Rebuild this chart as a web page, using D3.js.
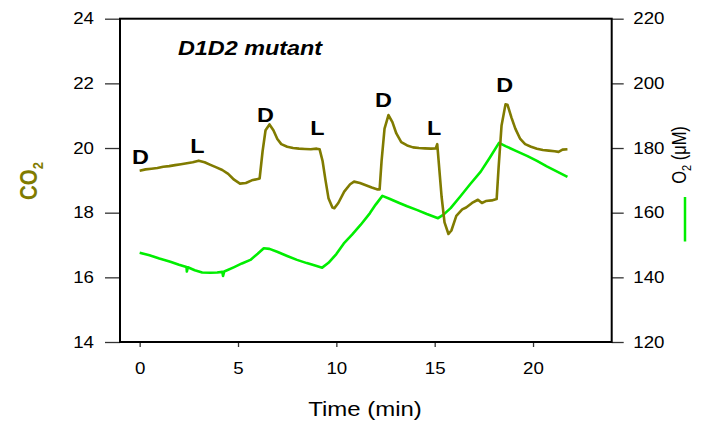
<!DOCTYPE html>
<html>
<head>
<meta charset="utf-8">
<script src="https://cdn.jsdelivr.net/npm/d3@7"></script>
<style>
  html, body { margin: 0; padding: 0; background: #fff; }
  svg { display: block; }
  text { font-family: "Liberation Sans", Arial, Helvetica, sans-serif; }
</style>
</head>
<body>
<svg id="chart" width="702" height="426"></svg>
<script>
// ---------- data ----------
const co2Time = [0.0,0.3,0.6,0.9,1.2,1.5,1.8,2.1,2.4,2.7,3.0,3.3,3.6,3.9,4.2,4.5,4.8,5.1,5.4,5.7,6.0,6.1,6.25,6.4,6.6,6.8,7.0,7.2,7.5,7.8,8.1,8.4,8.7,9.0,9.15,9.3,9.45,9.6,9.8,9.9,10.1,10.4,10.7,10.9,11.2,11.5,11.8,12.1,12.2,12.3,12.45,12.65,12.85,13.05,13.3,13.6,13.9,14.2,14.5,14.8,15.05,15.13,15.2,15.35,15.5,15.7,15.85,16.1,16.4,16.6,16.9,17.2,17.4,17.6,17.9,18.15,18.25,18.4,18.6,18.7,18.9,19.1,19.35,19.6,19.9,20.2,20.5,20.8,21.1,21.3,21.5,21.75];
const co2Value = [19.30,19.34,19.36,19.38,19.42,19.44,19.47,19.50,19.53,19.56,19.61,19.56,19.48,19.40,19.32,19.20,19.02,18.90,18.92,19.00,19.04,19.06,19.90,20.55,20.73,20.55,20.28,20.12,20.04,20.00,19.98,19.97,19.96,19.98,19.96,19.60,19.00,18.45,18.16,18.14,18.30,18.65,18.88,18.96,18.92,18.85,18.78,18.72,18.72,19.60,20.60,21.02,20.80,20.45,20.18,20.08,20.02,20.00,19.99,19.98,19.99,20.12,19.60,18.50,17.70,17.34,17.45,17.90,18.10,18.16,18.30,18.40,18.30,18.36,18.38,18.42,19.40,20.70,21.35,21.34,20.95,20.60,20.28,20.12,20.04,19.98,19.94,19.92,19.90,19.88,19.95,19.96];

const o2Time = [0.0,0.5,1.0,1.56,2.0,2.38,2.4,2.45,2.8,3.18,3.6,3.94,4.2,4.24,4.3,4.78,5.2,5.63,6.0,6.31,6.6,6.99,7.5,8.0,8.5,9.0,9.28,9.6,10.0,10.38,10.8,11.23,11.7,12.0,12.34,12.7,13.2,13.6,14.12,14.6,15.17,15.45,15.81,16.3,16.8,17.34,17.8,18.27,18.6,19.1,19.72,20.2,20.7,21.2,21.75];
const o2Value = [147.6,146.8,145.8,144.8,143.9,143.2,141.8,143.1,142.2,141.5,141.4,141.5,141.7,140.4,141.8,143.1,144.3,145.4,147.3,149.0,148.8,147.9,146.6,145.4,144.4,143.5,143.0,144.5,147.2,150.5,153.2,156.2,159.8,162.5,165.2,164.3,163.0,162.0,160.8,159.6,158.3,159.4,161.4,165.0,168.8,172.7,177.0,181.6,180.6,179.2,177.5,176.0,174.3,172.8,171.1];

const xTicks = [0, 5, 10, 15, 20];
const co2Ticks = [14, 16, 18, 20, 22, 24];
const o2Ticks = [120, 140, 160, 180, 200, 220];

const markText = ["D", "L", "D", "L", "D", "L", "D"];
const markTime = [0.04, 2.94, 6.4, 9.04, 12.4, 14.97, 18.56];
const markCo2 = [19.51, 19.85, 20.80, 20.40, 21.27, 20.40, 21.72];

const titleText = "D1D2 mutant";
const xTitle = "Time (min)";

// ---------- layout ----------
const SX = 1.17; // horizontal text stretch seen in reference
const OLIVE = "#807b00";
const GREEN = "#00ee00";
const L = 120, R = 611.7, T = 18.7, B = 342;

const svg = d3.select("#chart");
const x = d3.scaleLinear().domain([-1, 24]).range([L, R]);
const yL = d3.scaleLinear().domain([14, 24]).range([B, T]);
const yR = d3.scaleLinear().domain([120, 220]).range([B, T]);

// axes
const gL = svg.append("g").attr("transform", `translate(${L},0)`)
  .call(d3.axisLeft(yL).tickValues(co2Ticks).tickSize(15).tickSizeOuter(0).tickFormat(d3.format("d")));
gL.selectAll("text").attr("x", -26 / SX).attr("transform", `scale(${SX},1)`);

const gR = svg.append("g").attr("transform", `translate(${R},0)`)
  .call(d3.axisRight(yR).tickValues(o2Ticks).tickSize(12).tickSizeOuter(0).tickFormat(d3.format("d")));
gR.selectAll("text").attr("x", 21.6 / SX).attr("transform", `scale(${SX},1)`);

const gB = svg.append("g").attr("transform", `translate(0,${B})`)
  .call(d3.axisBottom(x).tickValues(xTicks).tickSize(5).tickSizeOuter(0).tickFormat(d3.format("d")));
gB.selectAll(".tick text").attr("y", 21).attr("x", 0).attr("transform", `scale(${SX},1)`);

[gL, gR, gB].forEach(g => {
  g.selectAll(".domain").remove();
  g.selectAll(".tick line").attr("stroke", "#333").attr("stroke-width", 1.3);
  g.selectAll(".tick text").attr("font-size", 16).attr("fill", "#000")
    .attr("font-family", "'Liberation Sans', Arial, sans-serif");
});

// frame
svg.append("rect").attr("x", L).attr("y", T).attr("width", R - L).attr("height", B - T)
  .attr("fill", "none").attr("stroke", "#000").attr("stroke-width", 2);

// lines
const o2Data = o2Time.map((t, i) => [t, o2Value[i]]);
const co2Data = co2Time.map((t, i) => [t, co2Value[i]]);

svg.append("path").datum(o2Data)
  .attr("fill", "none").attr("stroke", GREEN).attr("stroke-width", 2.6)
  .attr("stroke-linejoin", "round")
  .attr("d", d3.line().x(d => x(d[0])).y(d => yR(d[1])));

svg.append("path").datum(co2Data)
  .attr("fill", "none").attr("stroke", OLIVE).attr("stroke-width", 2.6)
  .attr("stroke-linejoin", "round")
  .attr("d", d3.line().x(d => x(d[0])).y(d => yL(d[1])));

// D / L marks
markText.forEach((s, i) => {
  svg.append("text")
    .attr("transform", `translate(${x(markTime[i])},${yL(markCo2[i])}) scale(${SX},1)`)
    .attr("text-anchor", "middle").attr("font-size", 20).attr("font-weight", "bold")
    .attr("fill", "#000").text(s);
});

// title
svg.append("text")
  .attr("transform", `translate(250,55) scale(${SX},1)`)
  .attr("text-anchor", "middle").attr("font-size", 20)
  .attr("font-weight", "bold").attr("font-style", "italic")
  .attr("fill", "#000").text(titleText);

// x axis title
svg.append("text")
  .attr("transform", `translate(365,416) scale(${SX},1)`)
  .attr("text-anchor", "middle").attr("font-size", 20.5)
  .attr("fill", "#000").text(xTitle);

// CO2 label
const co2Lab = svg.append("text")
  .attr("transform", `translate(37,181) scale(${SX},1) rotate(-90)`)
  .attr("text-anchor", "middle").attr("font-size", 20.5).attr("font-weight", "bold")
  .attr("fill", OLIVE);
co2Lab.append("tspan").text("CO");
co2Lab.append("tspan").attr("font-size", 13).attr("dy", 5).text("2");

// O2 label
const o2Lab = svg.append("text")
  .attr("transform", `translate(686,155) scale(${SX},1) rotate(-90)`)
  .attr("text-anchor", "middle").attr("font-size", 16.5)
  .attr("fill", "#000");
o2Lab.append("tspan").text("O");
o2Lab.append("tspan").attr("font-size", 11).attr("dy", 4).text("2");
o2Lab.append("tspan").attr("dy", -4).text(" (μM)");

// O2 legend swatch
svg.append("line").attr("x1", 685).attr("x2", 685).attr("y1", 197).attr("y2", 241.5)
  .attr("stroke", GREEN).attr("stroke-width", 2.5);
</script>
</body>
</html>
